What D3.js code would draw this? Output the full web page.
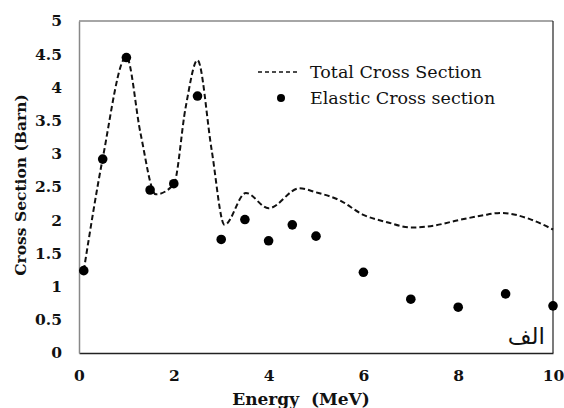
<!DOCTYPE html>
<html><head><meta charset="utf-8">
<script src="https://cdn.jsdelivr.net/npm/d3@7"></script>
<style>body{margin:0;background:#fff}svg{display:block}</style>
</head><body>
<svg id="c" width="564" height="408"></svg>
<script>
const xTicks = [0, 2, 4, 6, 8, 10];
const yTicks = [0, 0.5, 1, 1.5, 2, 2.5, 3, 3.5, 4, 4.5, 5];
const elasticE = [0.1, 0.5, 1, 1.5, 2, 2.5, 3, 3.5, 4, 4.5, 5, 6, 7, 8, 9, 10];
const elasticXS = [1.24, 2.92, 4.45, 2.455, 2.55, 3.87, 1.71, 2.01, 1.69, 1.93, 1.76, 1.215, 0.81, 0.69, 0.89, 0.71];
const totalE = [0.1, 0.5, 1.0, 1.3, 1.62, 2.0, 2.25, 2.5, 2.8, 3.07, 3.52, 4.0, 4.65, 5.0, 5.5, 6.0, 6.5, 7.0, 7.5, 8.0, 8.5, 8.9, 9.5, 10];
const totalXS = [1.24, 2.93, 4.46, 3.3, 2.39, 2.54, 3.7, 4.41, 3.05, 1.93, 2.41, 2.18, 2.48, 2.42, 2.3, 2.08, 1.97, 1.89, 1.92, 2.0, 2.07, 2.11, 2.02, 1.86];
const legendLabels = ["Total Cross Section", "Elastic Cross section"];

const svg = d3.select("#c");
const L = 79, R = 553, T = 21, B = 353;
const x = d3.scaleLinear().domain([0, 10]).range([L, R]);
const y = d3.scaleLinear().domain([0, 5]).range([B, T]);
const serif = "'DejaVu Serif', serif";

// frame
svg.append("line").attr("x1", L).attr("x2", R).attr("y1", T).attr("y2", T).attr("stroke", "#888").attr("stroke-width", 1.5);
svg.append("line").attr("x1", R).attr("x2", R).attr("y1", T).attr("y2", B).attr("stroke", "#222").attr("stroke-width", 1.2);

const xa = svg.append("g").attr("transform", `translate(0,${B})`)
  .call(d3.axisBottom(x).tickValues(xTicks).tickSize(0).tickPadding(17).tickFormat(d3.format("d")));
xa.select(".domain").attr("stroke", "#222").attr("stroke-width", 1.5);
xa.selectAll("text").attr("font-family", serif).attr("font-weight", "bold").attr("font-size", 15.5).attr("fill", "#111");

const ya = svg.append("g").attr("transform", `translate(${L},0)`)
  .call(d3.axisLeft(y).tickValues(yTicks).tickSize(0).tickPadding(17).tickFormat(d => String(d)));
ya.select(".domain").attr("stroke", "#888").attr("stroke-width", 1.5);
ya.selectAll("text").attr("font-family", serif).attr("font-weight", "bold").attr("font-size", 15.5).attr("fill", "#111");

// titles
svg.append("text").attr("x", 301).attr("y", 405).attr("text-anchor", "middle")
  .attr("font-family", serif).attr("font-weight", "bold").attr("font-size", 17).attr("fill", "#111")
  .attr("xml:space", "preserve").text("Energy  (MeV)");
svg.append("text").attr("transform", "translate(26,185) rotate(-90)").attr("text-anchor", "middle")
  .attr("font-family", serif).attr("font-weight", "bold").attr("font-size", 15.5).attr("fill", "#111")
  .text("Cross Section (Barn)");

// total curve
const tot = totalE.map((e, i) => [e, totalXS[i]]);
const line = d3.line().x(d => x(d[0])).y(d => y(d[1])).curve(d3.curveMonotoneX);
svg.append("path").attr("d", line(tot)).attr("fill", "none").attr("stroke", "#111")
  .attr("stroke-width", 2).attr("stroke-dasharray", "5.5,3");

// elastic points
svg.selectAll("circle.el").data(elasticE.map((e, i) => [e, elasticXS[i]])).join("circle")
  .attr("class", "el").attr("cx", d => x(d[0])).attr("cy", d => y(d[1])).attr("r", 4.8).attr("fill", "#000");

// legend
svg.append("line").attr("x1", 258).attr("x2", 300).attr("y1", 72).attr("y2", 72)
  .attr("stroke", "#111").attr("stroke-width", 1.5).attr("stroke-dasharray", "4,3");
svg.append("text").attr("x", 310).attr("y", 78).attr("font-family", serif).attr("font-size", 17.5).attr("fill", "#111").text(legendLabels[0]);
svg.append("circle").attr("cx", 281).attr("cy", 98).attr("r", 4).attr("fill", "#000");
svg.append("text").attr("x", 310).attr("y", 104).attr("font-family", serif).attr("font-size", 17.5).attr("fill", "#111").text(legendLabels[1]);

// Arabic label
svg.append("text").attr("x", 545).attr("y", 344).attr("text-anchor", "end")
  .attr("font-family", "'DejaVu Sans', 'Noto Sans', sans-serif").attr("font-size", 23).attr("fill", "#111").text("الف");
</script>
</body></html>
